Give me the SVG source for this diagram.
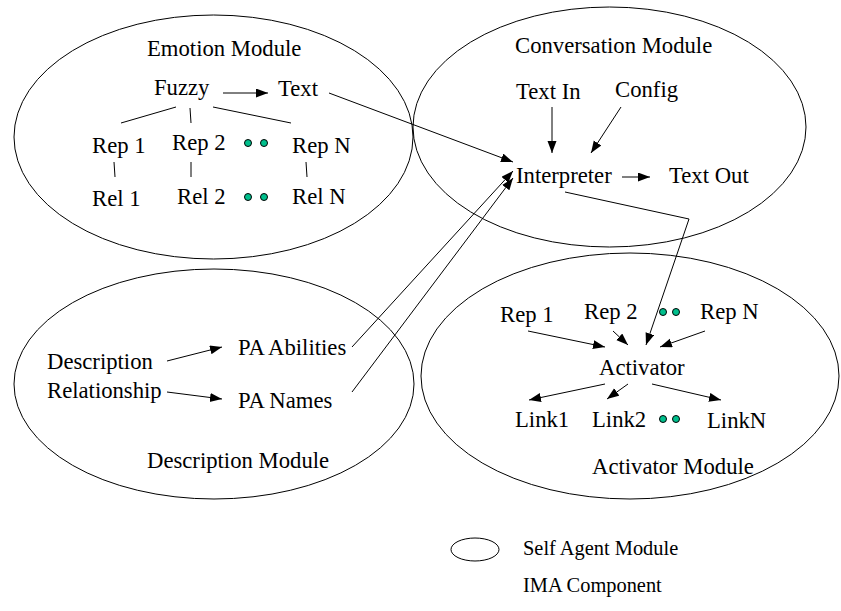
<svg xmlns="http://www.w3.org/2000/svg" width="841" height="611" viewBox="0 0 841 611">
  <style>
    .mod { fill: none; stroke: #000; stroke-width: 1; }
    .lbl { font-family: "Liberation Serif", "Times New Roman", serif; font-size: 22.7px; fill: #000; }
    .leg { font-family: "Liberation Serif", "Times New Roman", serif; font-size: 20.4px; fill: #000; }
    .ln { fill: none; stroke: #000; stroke-width: 1; }
    .arr { fill: none; stroke: #000; stroke-width: 1; marker-end: url(#head); }
    .dot { fill: #00bf8c; stroke: #000; stroke-width: 1; }
  </style>
  <defs>
    <marker id="head" markerUnits="userSpaceOnUse" markerWidth="13" markerHeight="10" refX="12" refY="4.5" orient="auto">
      <path d="M0,0 L12,4.5 L0,9 z" fill="#000"/>
    </marker>
  </defs>
  <rect width="841" height="611" fill="#fff"/>

  <!-- Emotion module -->
  <g id="emotion-module">
    <ellipse class="mod" cx="213.5" cy="137" rx="199.5" ry="122"/>
    <text class="lbl" x="147" y="56">Emotion Module</text>
    <text class="lbl" x="154" y="95">Fuzzy</text>
    <text class="lbl" x="278" y="96">Text</text>
    <text class="lbl" x="92" y="153">Rep 1</text>
    <text class="lbl" x="172" y="150">Rep 2</text>
    <text class="lbl" x="292" y="153">Rep N</text>
    <text class="lbl" x="92" y="206">Rel 1</text>
    <text class="lbl" x="177" y="204">Rel 2</text>
    <text class="lbl" x="292" y="204">Rel N</text>
    <circle class="dot" cx="248" cy="143" r="3.5"/>
    <circle class="dot" cx="264" cy="143" r="3.5"/>
    <circle class="dot" cx="248" cy="197" r="3.5"/>
    <circle class="dot" cx="264" cy="197" r="3.5"/>
  </g>

  <!-- Conversation module -->
  <g id="conversation-module">
    <ellipse class="mod" cx="609.5" cy="127" rx="196.5" ry="120"/>
    <text class="lbl" x="515" y="53">Conversation Module</text>
    <text class="lbl" x="516" y="99">Text In</text>
    <text class="lbl" x="615" y="97">Config</text>
    <text class="lbl" x="516" y="183">Interpreter</text>
    <text class="lbl" x="669" y="183">Text Out</text>
  </g>

  <!-- Description module -->
  <g id="description-module">
    <ellipse class="mod" cx="214" cy="384" rx="200" ry="115"/>
    <text class="lbl" x="47" y="369">Description</text>
    <text class="lbl" x="47" y="398">Relationship</text>
    <text class="lbl" x="238" y="355">PA Abilities</text>
    <text class="lbl" x="238" y="408">PA Names</text>
    <text class="lbl" x="147" y="468">Description Module</text>
  </g>

  <!-- Activator module -->
  <g id="activator-module">
    <ellipse class="mod" cx="630" cy="376" rx="209" ry="123"/>
    <text class="lbl" x="500" y="322">Rep 1</text>
    <text class="lbl" x="584" y="319">Rep 2</text>
    <text class="lbl" x="700" y="319">Rep N</text>
    <circle class="dot" cx="663" cy="312" r="3.5"/>
    <circle class="dot" cx="676" cy="312" r="3.5"/>
    <text class="lbl" x="599" y="375">Activator</text>
    <text class="lbl" x="515" y="427">Link1</text>
    <text class="lbl" x="592" y="427">Link2</text>
    <text class="lbl" x="707" y="428">LinkN</text>
    <circle class="dot" cx="663" cy="419" r="3.5"/>
    <circle class="dot" cx="676" cy="419" r="3.5"/>
    <text class="lbl" x="592" y="474">Activator Module</text>
  </g>

  <!-- Legend -->
  <g id="legend">
    <ellipse class="mod" cx="475" cy="549.5" rx="24" ry="11.5"/>
    <text class="leg" x="523" y="555">Self Agent Module</text>
    <text class="leg" x="523" y="592">IMA Component</text>
  </g>

  <!-- Connectors -->
  <g id="connectors">
    <!-- emotion tree -->
    <line class="arr" x1="223" y1="93" x2="268" y2="93"/>
    <line class="ln" x1="176" y1="107" x2="121" y2="123"/>
    <line class="ln" x1="190" y1="108" x2="191" y2="123"/>
    <line class="ln" x1="213" y1="107" x2="291" y2="123"/>
    <line class="ln" x1="114" y1="162" x2="115" y2="177"/>
    <line class="ln" x1="191" y1="162" x2="191" y2="177"/>
    <line class="ln" x1="306" y1="162" x2="307" y2="177"/>
    <!-- into the interpreter -->
    <line class="arr" x1="329" y1="93" x2="513" y2="162"/>
    <line class="arr" x1="552" y1="107" x2="552" y2="153"/>
    <line class="arr" x1="621" y1="107" x2="591" y2="153"/>
    <line class="arr" x1="352" y1="347" x2="513" y2="171"/>
    <line class="arr" x1="352" y1="392" x2="513" y2="178"/>
    <line class="arr" x1="622" y1="177" x2="650" y2="177"/>
    <!-- interpreter to activator -->
    <polyline class="arr" points="565,192 689,219 646,345"/>
    <!-- description -->
    <line class="arr" x1="167" y1="361" x2="222" y2="347"/>
    <line class="arr" x1="167" y1="392" x2="222" y2="399"/>
    <!-- activator -->
    <line class="arr" x1="528" y1="331" x2="605" y2="347"/>
    <line class="arr" x1="613" y1="331" x2="628" y2="345"/>
    <line class="arr" x1="705" y1="331" x2="660" y2="347"/>
    <line class="arr" x1="605" y1="384" x2="529" y2="400"/>
    <line class="arr" x1="628" y1="384" x2="607" y2="399"/>
    <line class="arr" x1="652" y1="384" x2="721" y2="400"/>
  </g>
</svg>
